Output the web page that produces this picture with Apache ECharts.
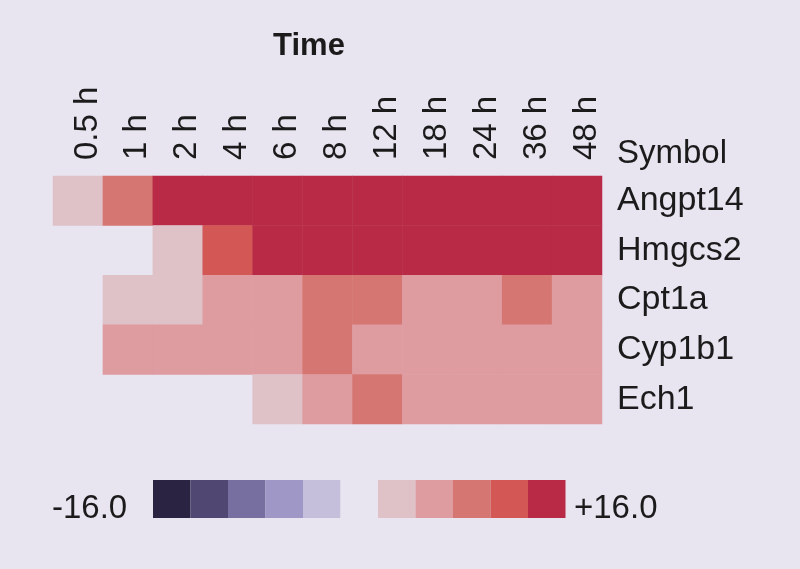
<!DOCTYPE html>
<html>
<head>
<meta charset="utf-8">
<title>Time heatmap</title>
<script src="https://cdn.jsdelivr.net/npm/echarts@6/dist/echarts.min.js"></script>
<style>
  html, body { margin: 0; padding: 0; background: #e8e4f0; }
  #chart { width: 800px; height: 569px; }
</style>
</head>
<body>
<div id="chart"></div>
<script>
// 时间点 (columns)
var times = ["0.5 h", "1 h", "2 h", "4 h", "6 h", "8 h", "12 h", "18 h", "24 h", "36 h", "48 h"];
// 基因 (rows, top to bottom)
var genes = ["Angpt14", "Hmgcs2", "Cpt1a", "Cyp1b1", "Ech1"];
// fold change per gene, null = no value
var angpt14 = [2, 8, 15, 15, 15, 15, 15, 15, 15, 15, 15];
var hmgcs2 = [null, null, 2, 11, 15, 15, 15, 15, 15, 15, 15];
var cpt1a = [null, 2, 2, 4.5, 4.5, 8, 8, 4.5, 4.5, 8, 4.5];
var cyp1b1 = [null, 4.5, 4.5, 4.5, 4.5, 8, 4.5, 4.5, 4.5, 4.5, 4.5];
var ech1 = [null, null, null, null, 2, 4.5, 8, 4.5, 4.5, 4.5, 4.5];
var scaleLabels = ["-16.0", "+16.0"];

var rows = [angpt14, hmgcs2, cpt1a, cyp1b1, ech1];
var FONT = "'Liberation Sans', Arial, sans-serif";
var TEXT = "#1b1b1b";
var BG = "#e8e4f0";

var heatData = [];
rows.forEach(function (vals, r) {
  vals.forEach(function (v, c) {
    if (v !== null) heatData.push([c, r, v]);
  });
});

var chart = echarts.init(document.getElementById("chart"));
chart.setOption({
  backgroundColor: BG,
  animation: false,
  title: [
    {
      text: "Time", left: 304, top: 26, textAlign: "center",
      textStyle: { fontFamily: FONT, fontSize: 31, fontWeight: "bold", color: TEXT }
    },
    {
      text: "Symbol", left: 612, top: 132,
      textStyle: { fontFamily: FONT, fontSize: 33, fontWeight: "normal", color: TEXT }
    },
    {
      text: scaleLabels[0], left: 47, top: 487,
      textStyle: { fontFamily: FONT, fontSize: 33, fontWeight: "normal", color: TEXT }
    },
    {
      text: scaleLabels[1], left: 569, top: 487,
      textStyle: { fontFamily: FONT, fontSize: 33, fontWeight: "normal", color: TEXT }
    }
  ],
  grid: { left: 53, right: 198, top: 176, bottom: 145 },
  xAxis: {
    type: "category",
    position: "top",
    data: times,
    axisLine: { show: false },
    axisTick: { show: false },
    splitLine: { show: false },
    axisLabel: {
      rotate: -90, margin: 16, interval: 0,
      verticalAlign: "top", lineHeight: 19,
      fontFamily: FONT, fontSize: 33, color: TEXT
    }
  },
  yAxis: {
    type: "category",
    position: "right",
    inverse: true,
    data: genes,
    axisLine: { show: false },
    axisTick: { show: false },
    splitLine: { show: false },
    axisLabel: { margin: 15, fontFamily: FONT, fontSize: 34, color: TEXT }
  },
  visualMap: {
    type: "piecewise",
    orient: "horizontal",
    left: 138,
    top: 465,
    itemWidth: 37.5,
    itemHeight: 38,
    itemGap: 0,
    itemSymbol: "rect",
    showLabel: false,
    hoverLink: false,
    selectedMode: false,
    pieces: [
      { gte: -16, lt: -12.8, color: "#2a2342" },
      { gte: -12.8, lt: -9.6, color: "#504772" },
      { gte: -9.6, lt: -6.4, color: "#776f9f" },
      { gte: -6.4, lt: -3.2, color: "#9f98c7" },
      { gte: -3.2, lt: 0, color: "#c6bfdb" },
      { value: 0, color: BG },
      { gt: 0, lt: 3.2, color: "#dfc1c8" },
      { gte: 3.2, lt: 6.4, color: "#de9ba0" },
      { gte: 6.4, lt: 9.6, color: "#d57672" },
      { gte: 9.6, lt: 12.8, color: "#d25755" },
      { gte: 12.8, lte: 16, color: "#b82a46" }
    ]
  },
  series: [
    {
      type: "heatmap",
      data: heatData,
      itemStyle: { borderWidth: 0 },
      emphasis: { disabled: true },
      label: { show: false }
    }
  ]
});
</script>
</body>
</html>
